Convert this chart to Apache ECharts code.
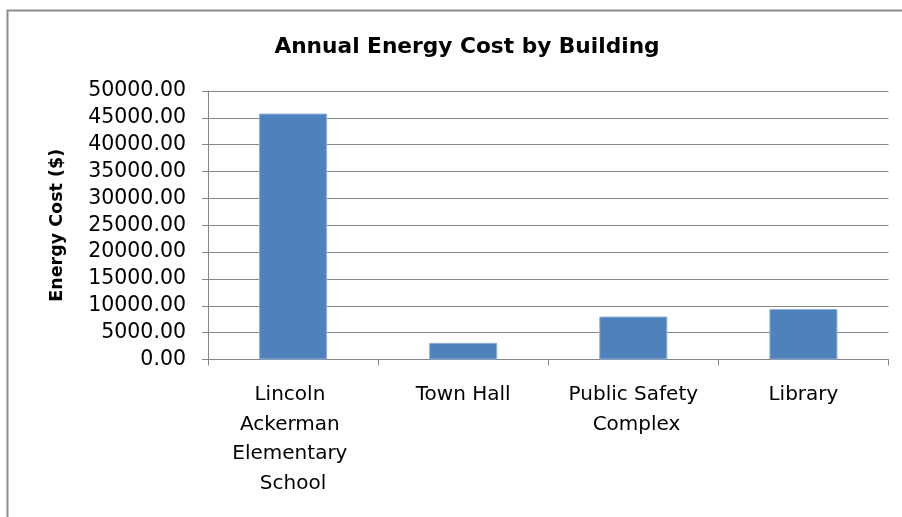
<!DOCTYPE html>
<html>
<head>
<meta charset="utf-8">
<script src="https://cdn.jsdelivr.net/npm/echarts@6/dist/echarts.min.js"></script>
<style>
html,body{margin:0;padding:0;background:#fff;}
#chart{width:902px;height:517px;}
</style>
</head>
<body>
<div id="chart"></div>
<script>
const titleText = 'Annual Energy Cost by Building';
const yAxisName = 'Energy Cost ($)';
const categories = ['Lincoln Ackerman Elementary School', 'Town Hall', 'Public Safety Complex', 'Library'];
const energyCost = [45800, 3100, 8000, 9400];
const yMin = 0, yMax = 50000, yStep = 5000;

const FONT = 'DejaVu Sans';
const chart = echarts.init(document.getElementById('chart'), null, {renderer: 'canvas'});
chart.setOption({
  animation: false,
  backgroundColor: '#fff',
  graphic: [{
    type: 'rect', left: 5, top: 8, z: -1,
    shape: {width: 930, height: 530},
    style: {fill: 'none', stroke: '#8c8c8c', lineWidth: 2}
  }],
  title: {
    text: titleText,
    left: 462, top: 31, textAlign: 'center',
    textStyle: {fontFamily: FONT, fontWeight: 'bold', fontSize: 21.7, color: '#000'}
  },
  grid: {left: 208, right: 13.5, top: 91, bottom: 157.5, containLabel: false},
  xAxis: {
    type: 'category',
    data: categories,
    axisLine: {lineStyle: {color: '#868686', width: 1}},
    axisTick: {show: true, length: 6, alignWithLabel: false, lineStyle: {color: '#868686'}},
    axisLabel: {
      interval: 0, margin: 21, width: 135, overflow: 'break',
      fontFamily: FONT, fontSize: 20, lineHeight: 29.5, color: '#000'
    }
  },
  yAxis: {
    type: 'value',
    min: yMin, max: yMax, interval: yStep,
    name: yAxisName,
    nameLocation: 'middle', nameGap: 142,
    nameTextStyle: {fontFamily: FONT, fontWeight: 'bold', fontSize: 17.5, color: '#000'},
    axisLine: {show: true, lineStyle: {color: '#868686', width: 1}},
    axisTick: {show: true, length: 6, lineStyle: {color: '#868686'}},
    axisLabel: {
      margin: 22, formatter: v => v.toFixed(2),
      fontFamily: FONT, fontSize: 20.5, color: '#000'
    },
    splitLine: {lineStyle: {color: '#868686', width: 1}}
  },
  series: [{
    type: 'bar',
    data: energyCost,
    barWidth: '40%',
    itemStyle: {color: '#4F81BD', borderColor: '#8FB0DA', borderWidth: 1}
  }]
});
</script>
</body>
</html>
